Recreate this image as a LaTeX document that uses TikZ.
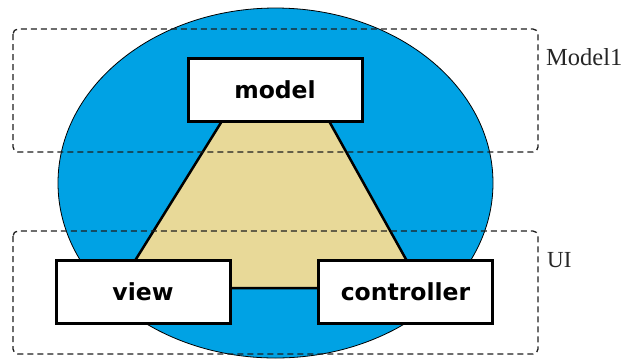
\documentclass[tikz,border=0pt]{standalone}
\usepackage{fontspec}
\setmainfont{Liberation Serif}
\newfontfamily\boxfont{DejaVu Sans}
\definecolor{mvcblue}{RGB}{0,162,228}
\definecolor{mvctan}{RGB}{232,217,152}
\definecolor{dashgray}{RGB}{30,30,30}
\begin{document}
\begin{tikzpicture}[x=1pt,y=-1pt,
  compbox/.style={draw=black,fill=white,line width=3pt,minimum width=174pt,minimum height=63pt,inner sep=0pt,
    font=\boxfont\bfseries\fontsize{23.5}{28}\selectfont},
  layerbox/.style={draw=dashgray,line width=1.3pt,dash pattern=on 6pt off 4pt,rounded corners=5pt},
  layerlabel/.style={anchor=base west,inner sep=0pt,font=\fontsize{24.5}{28}\selectfont,text=black!85}]
\useasboundingbox (0,0) rectangle (629,360);
% blue ellipse
\draw[fill=mvcblue,draw=black,line width=0.8pt] (275.5,183) ellipse [x radius=217.5,y radius=175];
% tan trapezoid
\coordinate (tl) at (222,121);
\coordinate (tr) at (329,121);
\coordinate (br) at (422,288);
\coordinate (bl) at (118,288);
\draw[fill=mvctan,draw=black,line width=2.5pt,line join=miter] (tl) -- (tr) -- (br) -- (bl) -- cycle;
% dashed layer boxes
\draw[layerbox] (13,29) rectangle (538,152);
\draw[layerbox] (13,231) rectangle (538,354);
\node[layerlabel] (lblmodel) at (546,65) {Model1};
\node[layerlabel,font=\fontsize{23}{28}\selectfont] (lblui) at (547,267) {UI};
% component boxes
\node[compbox] (model) at (275,89.5) {model};
\node[compbox] (view) at (143,292) {view};
\node[compbox] (controller) at (405.5,292) {controller};
\end{tikzpicture}
\end{document}
